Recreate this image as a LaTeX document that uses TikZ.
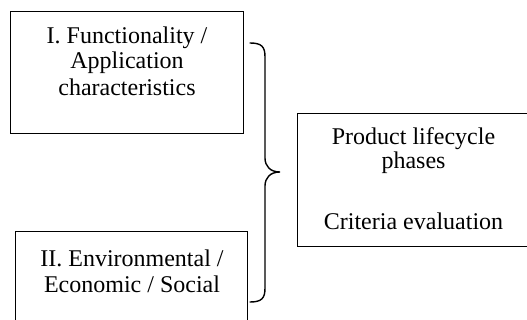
\documentclass[tikz,border=0pt]{standalone}
\usepackage{fontspec}
\setmainfont{Liberation Serif}
\begin{document}
\begin{tikzpicture}[x=1pt,y=-1pt,
  boxst/.style={draw=black,line width=1.3pt,rectangle,inner sep=0pt,anchor=north west},
  txt/.style={inner sep=0pt,anchor=base,font=\fontsize{24}{26}\selectfont},
  bracest/.style={draw=black,line width=1.4pt,line cap=round}]
\useasboundingbox (0,0) rectangle (527,320);
\clip (0,0) rectangle (527,320);
\fill[white] (0,0) rectangle (527,320);
% boxes
\node[boxst,minimum width=233pt,minimum height=122pt] (b1) at (10,11) {};
\node[boxst,minimum width=232pt,minimum height=100pt] (b2) at (15,231) {};
\node[boxst,minimum width=240pt,minimum height=133pt] (b3) at (297,113) {};
% texts
\node[txt] (t1a) at (127,44) {I. Functionality /};
\node[txt] (t1b) at (127,69) {Application};
\node[txt] (t1c) at (127,96) {characteristics};
\node[txt] (t2a) at (132,266) {II. Environmental /};
\node[txt] (t2b) at (132,292) {Economic / Social};
\node[txt] (t3a) at (413.5,145) {Product lifecycle};
\node[txt] (t3b) at (413.5,169) {phases};
\node[txt] (t3c) at (413.5,230) {Criteria evaluation};
% brace
\coordinate (bt) at (250,43);
\coordinate (bm) at (280,172);
\coordinate (bb) at (250,302);
\draw[bracest] (bt) .. controls (262,43) and (265,47) .. (265,57)
  -- (265,158) .. controls (265,166) and (270,172) .. (bm)
  .. controls (270,172) and (265,178) .. (265,186)
  -- (265,288) .. controls (265,298) and (262,302) .. (bb);
\end{tikzpicture}
\end{document}
